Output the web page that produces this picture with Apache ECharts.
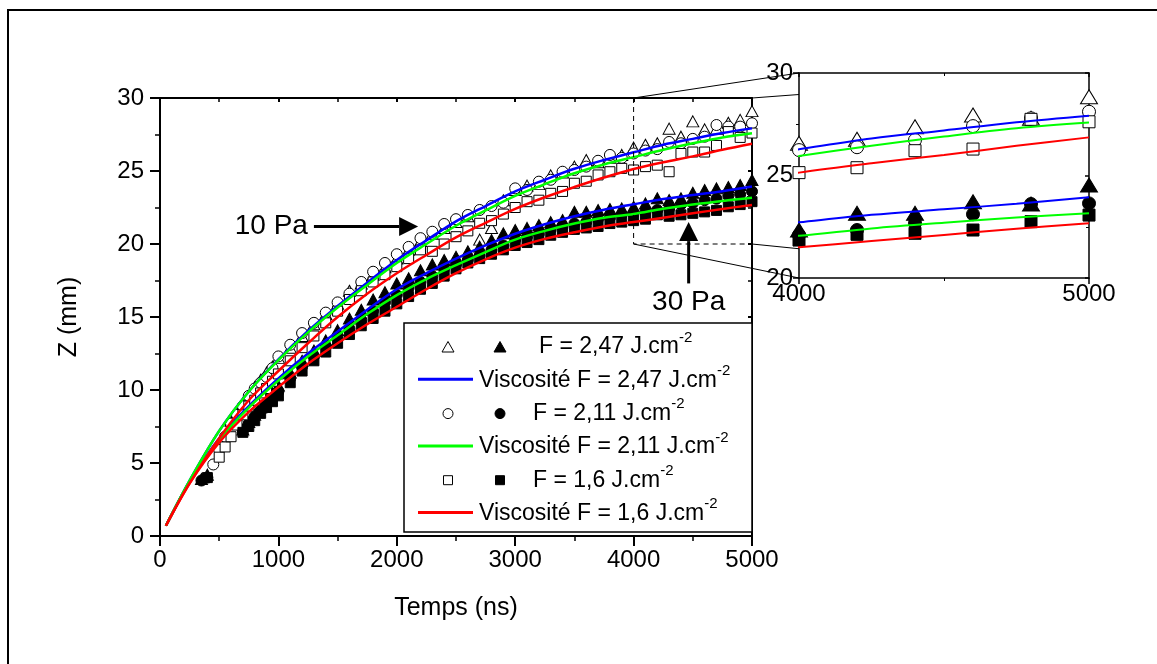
<!DOCTYPE html>
<html><head><meta charset="utf-8">
<script src="https://cdn.jsdelivr.net/npm/echarts@6/dist/echarts.min.js"></script>
<style>html,body{margin:0;padding:0;background:#fff}#c{width:1157px;height:664px}</style>
</head><body><div id="c"></div>
<script>
const FONT = '"Liberation Sans", Arial, Helvetica, sans-serif';

// ---------- DATA ----------
// measurement times (ns) for the main plot
const tMain = [350,400,450,500,550,600,650,700,750,800,850,900,950,1000,
  1100,1200,1300,1400,1500,1600,1700,1800,1900,2000,2100,2200,2300,2400,2500,
  2600,2700,2800,2900,3000,3100,3200,3300,3400,3500,3600,3700,3800,3900,4000,
  4100,4200,4300,4400,4500,4600,4700,4800,4900,5000];
// F = 2,47 J.cm-2 : open (10 Pa) and filled (30 Pa) triangles
const openTri = [null,null,null,null,null,7.9,8.5,9.1,9.6,10.2,10.7,11.2,11.6,12.2,
  12.9,13.7,14.5,15.2,15.9,16.8,17.3,17.9,18.4,19.0,19.6,20.2,20.7,21.1,21.5,
  21.9,20.3,21.1,23.0,23.7,24.0,24.1,24.7,24.9,25.3,25.75,25.6,25.9,26.1,26.6,
  26.8,26.9,27.9,27.35,28.4,27.85,27.9,28.3,28.5,29.1];
const fillTri = [3.9,4.2,null,null,null,null,null,7.3,7.8,8.3,8.8,9.3,9.8,10.3,
  11.2,12.0,12.7,13.4,14.1,14.9,15.5,16.2,16.7,17.3,17.65,18.2,18.6,18.9,19.13,
  19.5,19.82,20.27,20.73,20.96,21.1,21.3,21.5,21.64,22.21,22.21,22.33,22.4,22.44,22.55,
  22.78,23.13,23.01,23.13,23.51,23.7,23.81,23.9,24.04,24.38];
// F = 2,11 J.cm-2 : circles
const openCirc = [null,null,4.9,5.9,6.8,7.7,8.3,8.9,9.6,10.1,10.5,10.9,11.5,12.3,
  13.1,13.9,14.6,15.3,16.0,16.6,17.4,18.1,18.7,19.3,19.8,20.4,20.84,21.37,21.7,
  21.99,22.33,22.6,22.83,23.81,23.7,24.27,24.4,24.95,25.07,25.3,25.7,26.1,25.9,26.2,
  26.4,26.5,26.99,26.9,27.2,27.35,28.15,28.04,28.04,28.27];
const fillCirc = [3.8,4.0,null,null,null,null,null,7.2,7.7,8.2,8.6,9.0,9.5,9.9,
  10.8,11.6,12.3,13.0,13.6,14.2,14.8,15.4,16.0,16.5,17.0,17.4,17.8,18.3,18.6,
  18.9,19.2,19.6,19.9,20.3,20.5,20.7,21.0,21.2,21.4,21.5,21.7,21.8,22.0,22.1,
  22.2,22.33,22.4,22.7,22.8,23.0,23.1,23.3,23.4,23.6];
// F = 1,6 J.cm-2 : squares
const openSq = [null,null,null,5.4,6.1,6.8,7.6,8.3,8.9,9.3,9.8,10.1,10.6,11.1,
  12.0,12.9,13.7,14.6,15.4,16.2,16.8,17.4,17.9,18.45,19.0,19.6,19.5,20.0,20.5,
  20.9,21.42,21.6,22.05,22.5,22.9,23.0,23.47,23.6,24.16,24.3,24.73,24.95,25.18,25.07,
  25.3,25.4,24.95,26.2,26.3,26.3,26.75,27.7,27.3,27.6];
const fillSq = [null,4.0,null,null,null,null,null,7.1,7.5,7.9,8.4,8.8,9.2,9.6,
  10.5,11.3,12.0,12.6,13.2,13.8,14.4,14.9,15.4,15.9,16.4,16.9,17.3,17.8,18.3,
  18.7,19.0,19.3,19.6,19.9,20.1,20.3,20.6,20.8,21.0,21.1,21.2,21.4,21.5,21.6,
  21.7,22.0,21.9,22.0,22.1,22.2,22.3,22.55,22.7,22.9];

// viscosity model curves
const tModel  = [50,250,500,750,1000,1250,1500,1750,2000,2250,2500,2750,3000,3250,3500,3750,4000,4250,4500,4750,5000];
const blue10  = [0.7,3.8,7.2,9.9,12.1,14.05,15.75,17.35,18.9,20.25,21.55,22.6,23.6,24.4,25.15,25.75,26.28,26.8,27.2,27.6,27.92];
const blue30  = [0.7,3.7,6.7,8.9,10.8,12.5,14.0,15.5,16.9,18.0,19.0,19.9,20.7,21.35,21.9,22.35,22.72,23.08,23.35,23.62,23.94];
const green10 = [0.7,3.8,7.2,9.9,12.05,13.95,15.65,17.2,18.7,20.0,21.25,22.3,23.3,24.1,24.85,25.45,25.95,26.45,26.9,27.3,27.58];
const green30 = [0.7,3.7,6.6,8.8,10.65,12.3,13.75,15.2,16.5,17.6,18.55,19.45,20.3,20.9,21.4,21.8,22.06,22.42,22.7,22.95,23.16];
const red10   = [0.7,3.6,6.7,9.3,11.3,13.2,15.0,16.6,18.0,19.25,20.45,21.45,22.4,23.2,23.9,24.55,25.14,25.6,26.0,26.45,26.86];
const red30   = [0.7,3.6,6.4,8.5,10.2,11.8,13.2,14.5,15.7,16.9,18.0,18.95,19.75,20.35,20.8,21.2,21.5,21.8,22.1,22.4,22.67];

// inset (zoom 4000-5000 ns)
const tInset = [4000,4200,4400,4600,4800,5000];
const insetOpenTri  = [26.57,26.77,27.38,27.95,27.79,28.84];
const insetFillTri  = [22.34,23.16,23.16,23.72,23.61,24.54];
const insetOpenCirc = [26.24,26.38,26.73,27.41,27.79,28.11];
const insetFillCirc = [22.1,22.34,22.67,23.11,23.61,23.64];
const insetOpenSq   = [25.14,25.38,26.21,26.29,27.74,27.62];
const insetFillSq   = [21.85,22.13,22.18,22.34,22.75,23.07];

// texts
const xTitle = 'Temps (ns)';
const yTitle = 'Z (mm)';
const legendTexts = ['F = 2,47 J.cm','Viscosité F = 2,47 J.cm','F = 2,11 J.cm','Viscosité F = 2,11 J.cm','F = 1,6 J.cm','Viscosité F = 1,6 J.cm'];
const supText = '-2';
const notes = [
  {text:'10 Pa', from:[1300,21.2], to:[2180,21.2]},
  {text:'30 Pa', from:[4465,17.3], to:[4465,21.5]}
];
const zoomBox = {x0:4000, x1:5000, y0:20, y1:30};

// ---------- CHART ----------
const BLUE = '#0000ff', GREEN = '#00ff00', RED = '#ff0000';
const pairs = (t, v) => t.map((x,i) => v[i] == null ? null : [x, v[i]]).filter(p => p);

function sc(data, symbol, size, filled, ai) {
  return {type:'scatter', data, symbol, symbolSize:size, xAxisIndex:ai, yAxisIndex:ai,
    itemStyle:{color: filled ? '#000' : '#fff', borderColor:'#000', borderWidth:1, opacity:1},
    silent:true, animation:false, clip:true, emphasis:{disabled:true}};
}
function ln(data, color, width, ai) {
  return {type:'line', data, xAxisIndex:ai, yAxisIndex:ai, symbol:'none', showSymbol:false,
    smooth:0.35, lineStyle:{color, width}, silent:true, animation:false, clip:true,
    emphasis:{disabled:true}};
}
function seriesSet(ai, t, ot, ft, oc, fc, os, fs, big) {
  const tri = big ? [17,14] : [12,11], cir = big ? 13 : 11, sq = big ? 12 : 10, lw = big ? 2 : 2.5;
  return [
    sc(pairs(t, ot), 'triangle', tri, false, ai),
    sc(pairs(t, ft), 'triangle', tri, true, ai),
    ln(pairs(tModel, blue10), BLUE, lw, ai),
    ln(pairs(tModel, blue30), BLUE, lw, ai),
    sc(pairs(t, oc), 'circle', cir, false, ai),
    sc(pairs(t, fc), 'circle', cir, true, ai),
    ln(pairs(tModel, green10), GREEN, lw, ai),
    ln(pairs(tModel, green30), GREEN, lw, ai),
    sc(pairs(t, os), 'rect', sq, false, ai),
    sc(pairs(t, fs), 'rect', sq, true, ai),
    ln(pairs(tModel, red10), RED, lw, ai),
    ln(pairs(tModel, red30), RED, lw, ai)
  ];
}

const lab = (size, margin, show=true) => ({show, fontSize:size, color:'#000', fontFamily:FONT, margin, formatter: v => String(v)});
function ax(o) {
  const lw = o.lw;
  return Object.assign({
    type:'value', scale:false,
    axisLine:{show:true, onZero:false, lineStyle:{color:'#000', width:lw}},
    axisTick:{show:true, inside:o.inside, length:o.tick, lineStyle:{color:'#000', width:lw}},
    minorTick:{show:true, splitNumber:2, length:o.minor, lineStyle:{color:'#000', width:Math.max(1, lw-0.5)}},
    splitLine:{show:false}, minorSplitLine:{show:false},
    axisLabel: o.label || {show:false}
  }, o.extra);
}

const chart = echarts.init(document.getElementById('c'), null, {renderer:'canvas'});
chart.setOption({
  animation:false,
  backgroundColor:'#fff',
  grid:[
    {left:160, top:98, width:592, height:438, containLabel:false},
    {left:799, top:73, width:290, height:205, containLabel:false, show:true, backgroundColor:'#fff', borderWidth:0}
  ],
  xAxis:[
    ax({lw:2, inside:false, tick:10, minor:5, label:lab(24,12), extra:{gridIndex:0, position:'bottom', min:0, max:5000, interval:1000,
      name:xTitle, nameLocation:'middle', nameGap:60, nameTextStyle:{fontSize:25, color:'#000', fontFamily:FONT}}}),
    ax({lw:2, inside:true, tick:4, minor:4, extra:{gridIndex:0, position:'top', min:0, max:5000, interval:1000}}),
    ax({lw:1.5, inside:false, tick:6, minor:3, label:lab(24,4), extra:{gridIndex:1, position:'bottom', min:4000, max:5000, interval:1000}}),
    ax({lw:1.5, inside:true, tick:4, minor:3, extra:{gridIndex:1, position:'top', min:4000, max:5000, interval:1000}})
  ],
  yAxis:[
    ax({lw:2, inside:false, tick:10, minor:5, label:lab(24,16), extra:{gridIndex:0, position:'left', min:0, max:30, interval:5,
      name:yTitle, nameLocation:'middle', nameGap:78, nameTextStyle:{fontSize:25, color:'#000', fontFamily:FONT}}}),
    ax({lw:2, inside:true, tick:4, minor:4, extra:{gridIndex:0, position:'right', min:0, max:30, interval:5}}),
    ax({lw:1.5, inside:false, tick:6, minor:3, label:lab(24,6), extra:{gridIndex:1, position:'left', min:20, max:30, interval:5}}),
    ax({lw:1.5, inside:true, tick:4, minor:3, extra:{gridIndex:1, position:'right', min:20, max:30, interval:5}})
  ],
  series: [].concat(
    seriesSet(0, tMain, openTri, fillTri, openCirc, fillCirc, openSq, fillSq, false),
    seriesSet(2, tInset, insetOpenTri, insetFillTri, insetOpenCirc, insetFillCirc, insetOpenSq, insetFillSq, true)
  )
});

// ---------- overlays (positions computed through the axes) ----------
function buildGraphics() {
  const M = (x,y) => chart.convertToPixel({xAxisIndex:0, yAxisIndex:0}, [x,y]);
  const I = (x,y) => chart.convertToPixel({xAxisIndex:2, yAxisIndex:2}, [x,y]);
  const g = [];
  const seg = (p, q, w, dash) => g.push({type:'line', z:50, silent:true,
    shape:{x1:p[0], y1:p[1], x2:q[0], y2:q[1]}, style:{stroke:'#000', lineWidth:w, lineDash:dash||null}});

  // frame around figure (its right and bottom edges lie outside the picture)
  g.push({type:'rect', z:50, silent:true, shape:{x:8, y:10, width:1170, height:680}, style:{fill:null, stroke:'#000', lineWidth:2}});

  // zoom box (dashed)
  const a = M(zoomBox.x0, zoomBox.y1), b = M(zoomBox.x0, zoomBox.y0), c = M(zoomBox.x1, zoomBox.y0), d = M(zoomBox.x1, zoomBox.y1);
  g.push({type:'polyline', z:50, silent:true, shape:{points:[a,b,c]}, style:{stroke:'#000', fill:null, lineWidth:1, lineDash:[5,4]}});
  // connector lines to the inset
  const ia = I(zoomBox.x0, zoomBox.y1), ib = I(zoomBox.x0, zoomBox.y0), ic = I(zoomBox.x1, zoomBox.y0), id = I(zoomBox.x1, zoomBox.y1);
  const clipX = ia[0];
  const clipTo = (p, q) => { const t = (clipX - p[0])/(q[0]-p[0]); return [clipX, p[1] + t*(q[1]-p[1])]; };
  seg(a, ia, 1); seg(b, ib, 1);
  seg(d, clipTo(d, id), 1); seg(c, clipTo(c, ic), 1);

  // arrows + labels
  notes.forEach(n => {
    const p0 = M(n.from[0], n.from[1]), p1 = M(n.to[0], n.to[1]);
    const dx = p1[0]-p0[0], dy = p1[1]-p0[1], L = Math.hypot(dx, dy), ux = dx/L, uy = dy/L;
    const head = 19, half = 9.5;
    const base = [p1[0]-ux*head, p1[1]-uy*head];
    seg(p0, base, 3);
    g.push({type:'polygon', z:50, silent:true, shape:{points:[p1, [base[0]-uy*half, base[1]+ux*half], [base[0]+uy*half, base[1]-ux*half]]}, style:{fill:'#000'}});
    const horiz = Math.abs(dx) > Math.abs(dy);
    g.push({type:'text', z:50, silent:true,
      x: horiz ? p0[0]-6 : p0[0], y: horiz ? p0[1] : p0[1]+19,
      style:{text:n.text, fontSize:28, fontFamily:FONT, fill:'#000', align: horiz ? 'right' : 'center', verticalAlign:'middle'}});
  });

  // legend box
  const right = M(5000, 0)[0], bottom = M(0, 0)[1] - 4;
  const bw = 348, bh = 209, left = right - bw, top = bottom - bh;
  g.push({type:'rect', z:40, silent:true, shape:{x:left, y:top, width:bw, height:bh}, style:{fill:'#fff', stroke:'#000', lineWidth:1.5}});
  const rowY = i => top + 24 + i*33.3;
  const sym = (kind, cx, cy, filled) => {
    const st = {fill: filled ? '#000' : '#fff', stroke:'#000', lineWidth:1};
    if (kind === 'triangle') g.push({type:'polygon', z:51, silent:true, shape:{points:[[cx, cy-5.5],[cx-6, cy+5],[cx+6, cy+5]]}, style:st});
    else if (kind === 'circle') g.push({type:'circle', z:51, silent:true, shape:{cx, cy, r:5}, style:st});
    else g.push({type:'rect', z:51, silent:true, shape:{x:cx-4.5, y:cy-4.5, width:9, height:9}, style:st});
  };
  const kinds = ['triangle', BLUE, 'circle', GREEN, 'rect', RED];
  kinds.forEach((k, i) => {
    const y = rowY(i);
    let tx;
    if (i % 2 === 0) {
      sym(k, left + 44, y, false); sym(k, left + 96, y, true);
      tx = left + (i === 0 ? 135 : 129);
    } else {
      g.push({type:'line', z:51, silent:true, shape:{x1:left+14, y1:y-1, x2:left+69, y2:y-1}, style:{stroke:k, lineWidth:3}});
      tx = left + 75;
    }
    g.push({type:'text', z:51, silent:true, x:tx, y:y,
      style:{text:'{n|' + legendTexts[i] + '}{s|' + supText + '}', align:'left', verticalAlign:'middle', fill:'#000',
        rich:{n:{fontSize:23, fontFamily:FONT, lineHeight:34, fill:'#000'}, s:{fontSize:15, fontFamily:FONT, lineHeight:16, verticalAlign:'top', fill:'#000'}}}});
  });
  chart.setOption({graphic:{elements:g}});
}
buildGraphics();
</script>
</body></html>
